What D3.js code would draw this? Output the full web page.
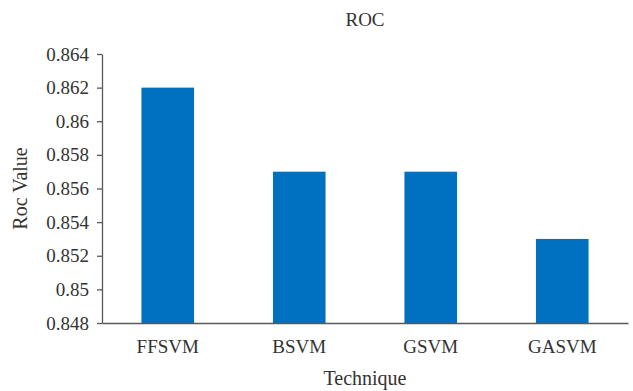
<!DOCTYPE html>
<html>
<head>
<meta charset="utf-8">
<script src="https://cdn.jsdelivr.net/npm/d3@7"></script>
<style>
  html, body { margin: 0; padding: 0; background: #fff; }
  svg { display: block; }
  text { font-family: "Liberation Serif", "Times New Roman", serif; fill: #333; }
</style>
</head>
<body>
<svg id="chart" width="633" height="391"></svg>
<script>
const categories = ["FFSVM", "BSVM", "GSVM", "GASVM"];
const rocValues = [0.862, 0.857, 0.857, 0.853];
const yTicks = [0.848, 0.85, 0.852, 0.854, 0.856, 0.858, 0.86, 0.862, 0.864];
const chartTitle = "ROC";
const xTitle = "Technique";
const yTitle = "Roc Value";

const svg = d3.select("#chart");
const plotLeft = 102, plotRight = 628, plotTop = 54, plotBottom = 323;

const x = d3.scaleBand().domain(categories).range([plotLeft, plotRight]).paddingInner(0.6).paddingOuter(0.3);
const y = d3.scaleLinear().domain([0.848, 0.864]).range([plotBottom, plotTop]);

// bars
svg.append("g").selectAll("rect")
  .data(categories.map((c, i) => ({ c, v: rocValues[i] })))
  .join("rect")
  .attr("x", d => x(d.c))
  .attr("width", x.bandwidth())
  .attr("y", d => y(d.v))
  .attr("height", d => y(0.848) - y(d.v))
  .attr("fill", "#0070C0");

// y axis
const yAxis = svg.append("g")
  .attr("transform", `translate(${plotLeft},0)`)
  .call(d3.axisLeft(y).tickValues(yTicks).tickFormat(d => String(+d.toFixed(3))).tickSize(5).tickPadding(8).tickSizeOuter(0));
yAxis.selectAll("path, line").attr("stroke", "#595959").attr("stroke-width", 1.3);
yAxis.selectAll("text").style("font-family", "Liberation Serif, serif").style("font-size", "19px").attr("fill", "#333");

// x axis
const xAxis = svg.append("g")
  .attr("transform", `translate(0,${plotBottom})`)
  .call(d3.axisBottom(x).tickSize(0).tickPadding(17).tickSizeOuter(0));
xAxis.select("path").attr("stroke", "#595959").attr("stroke-width", 1.3);
xAxis.selectAll("text").style("font-family", "Liberation Serif, serif").style("font-size", "19px").attr("fill", "#333");

// titles
svg.append("text")
  .attr("x", (plotLeft + plotRight) / 2).attr("y", 26)
  .attr("text-anchor", "middle")
  .style("font-size", "19px")
  .text(chartTitle);

svg.append("text")
  .attr("x", (plotLeft + plotRight) / 2).attr("y", 385)
  .attr("text-anchor", "middle")
  .style("font-size", "20px")
  .text(xTitle);

svg.append("text")
  .attr("transform", `translate(27,${(plotTop + plotBottom) / 2}) rotate(-90)`)
  .attr("text-anchor", "middle")
  .style("font-size", "20px")
  .text(yTitle);
</script>
</body>
</html>
